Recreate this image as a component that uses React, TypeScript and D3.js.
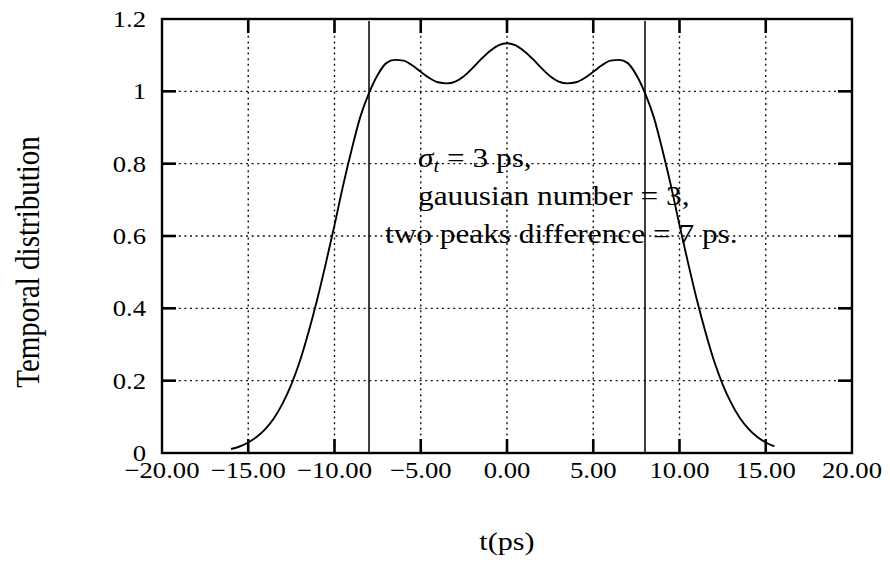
import React from 'react';
import * as d3 from 'd3';

// ---- data ----
const timePs = [
  -16, -15.5, -15, -14.5, -14, -13.5, -13, -12.5, -12, -11.5, -11, -10.5, -10, -9.5, -9, -8.5,
  -8, -7.5, -7, -6.5, -6, -5.5, -5, -4.5, -4, -3.5, -3, -2.5, -2, -1.5, -1, -0.5,
  0, 0.5, 1, 1.5, 2, 2.5, 3, 3.5, 4, 4.5, 5, 5.5, 6, 6.5, 7, 7.5,
  8, 8.5, 9, 9.5, 10, 10.5, 11, 11.5, 12, 12.5, 13, 13.5, 14, 14.5, 15, 15.5,
];
const distribution = [
  0.011, 0.018, 0.029, 0.045, 0.067, 0.097, 0.138, 0.19, 0.255, 0.335, 0.425, 0.525, 0.63, 0.74, 0.84, 0.93,
  0.995, 1.045, 1.078, 1.087, 1.085, 1.072, 1.054, 1.037, 1.025, 1.022, 1.027, 1.042, 1.064, 1.089, 1.111, 1.127,
  1.133, 1.127, 1.111, 1.089, 1.064, 1.042, 1.027, 1.022, 1.025, 1.037, 1.054, 1.072, 1.085, 1.087, 1.078, 1.045,
  0.995, 0.93, 0.84, 0.74, 0.63, 0.525, 0.425, 0.335, 0.255, 0.19, 0.138, 0.097, 0.067, 0.045, 0.029, 0.018,
];
const xTicks = [-20, -15, -10, -5, 0, 5, 10, 15, 20];
const xTickLabels = ['−20.00', '−15.00', '−10.00', '−5.00', '0.00', '5.00', '10.00', '15.00', '20.00'];
const yTicks = [0, 0.2, 0.4, 0.6, 0.8, 1, 1.2];
const yTickLabels = ['0', '0.2', '0.4', '0.6', '0.8', '1', '1.2'];
const markerLines = [-8, 8];
const annotationLine2 = 'gauusian number = 3,';
const annotationLine3 = 'two peaks difference = 7 ps.';
const xTitle = 't(ps)';
const yTitle = 'Temporal distribution';

// ---- layout ----
const W = 890;
const H = 562;
const FONT = "'Liberation Serif', 'Times New Roman', serif";
const SX = 1.16; // horizontal stretch of the scanned text

const x = d3.scaleLinear().domain([-20, 20]).range([162, 852]);
const y = d3.scaleLinear().domain([0, 1.2]).range([453, 19]);

function T({ px, py, anchor = 'start', size, rotate, children }: any) {
  return (
    <g transform={`translate(${px},${py}) scale(${SX},1)${rotate ? ` rotate(${rotate})` : ''}`}>
      <text x={0} y={0} textAnchor={anchor} fontSize={size} fontFamily={FONT} fill="#000">
        {children}
      </text>
    </g>
  );
}

export default function App() {
  const pts = timePs.map((t, i) => [t, distribution[i]] as [number, number]);
  const line = d3
    .line<[number, number]>()
    .x((d) => x(d[0]))
    .y((d) => y(d[1]))
    .curve(d3.curveMonotoneX);

  const [x0, x1] = x.range();
  const [y0, y1] = y.range();
  const tickLen = 14;

  return (
    <svg
      width={W}
      height={H}
      style={{ position: 'absolute', left: 0, top: 0, background: '#fff' }}
    >
      <rect x={0} y={0} width={W} height={H} fill="#fff" />
      {/* grid */}
      <g stroke="#111" strokeWidth={1.4} strokeDasharray="2,3.6">
        {xTicks.slice(1, -1).map((t) => (
          <line key={'gx' + t} x1={x(t)} x2={x(t)} y1={y1} y2={y0} />
        ))}
        {yTicks.slice(1, -1).map((v) => (
          <line key={'gy' + v} x1={x0} x2={x1} y1={y(v)} y2={y(v)} />
        ))}
      </g>
      {/* marker lines */}
      <g stroke="#000" strokeWidth={1.5}>
        {markerLines.map((t) => (
          <line key={'m' + t} x1={x(t)} x2={x(t)} y1={y1 + 2} y2={y0} />
        ))}
      </g>
      {/* ticks */}
      <g stroke="#000" strokeWidth={2.6}>
        {xTicks.slice(1, -1).map((t) => (
          <g key={'tx' + t}>
            <line x1={x(t)} x2={x(t)} y1={y0} y2={y0 - tickLen} />
            <line x1={x(t)} x2={x(t)} y1={y1} y2={y1 + tickLen} />
          </g>
        ))}
        {yTicks.slice(1, -1).map((v) => (
          <g key={'ty' + v}>
            <line x1={x0} x2={x0 + tickLen} y1={y(v)} y2={y(v)} />
            <line x1={x1} x2={x1 - tickLen} y1={y(v)} y2={y(v)} />
          </g>
        ))}
      </g>
      {/* frame */}
      <rect x={x0} y={y1} width={x1 - x0} height={y0 - y1} fill="none" stroke="#000" strokeWidth={2.4} />
      {/* curve */}
      <path d={line(pts) || ''} fill="none" stroke="#000" strokeWidth={1.9} />
      {/* tick labels */}
      {xTicks.map((t, i) => (
        <T key={'lx' + t} px={x(t)} py={478} anchor="middle" size={23}>
          {xTickLabels[i]}
        </T>
      ))}
      {yTicks.map((v, i) => (
        <T key={'ly' + v} px={146} py={y(v) + 8} anchor="end" size={23}>
          {yTickLabels[i]}
        </T>
      ))}
      {/* annotation */}
      <T px={418} py={167} size={27}>
        <tspan fontStyle="italic">σ</tspan>
        <tspan fontStyle="italic" fontSize={18} dy={5}>t</tspan>
        <tspan dy={-5}> = 3 ps,</tspan>
      </T>
      <T px={418} py={205} size={27}>{annotationLine2}</T>
      <T px={385} py={243} size={27}>{annotationLine3}</T>
      {/* axis titles */}
      <T px={507} py={550} anchor="middle" size={26}>{xTitle}</T>
      <T px={39} py={262} anchor="middle" size={29} rotate={-90}>{yTitle}</T>
    </svg>
  );
}
